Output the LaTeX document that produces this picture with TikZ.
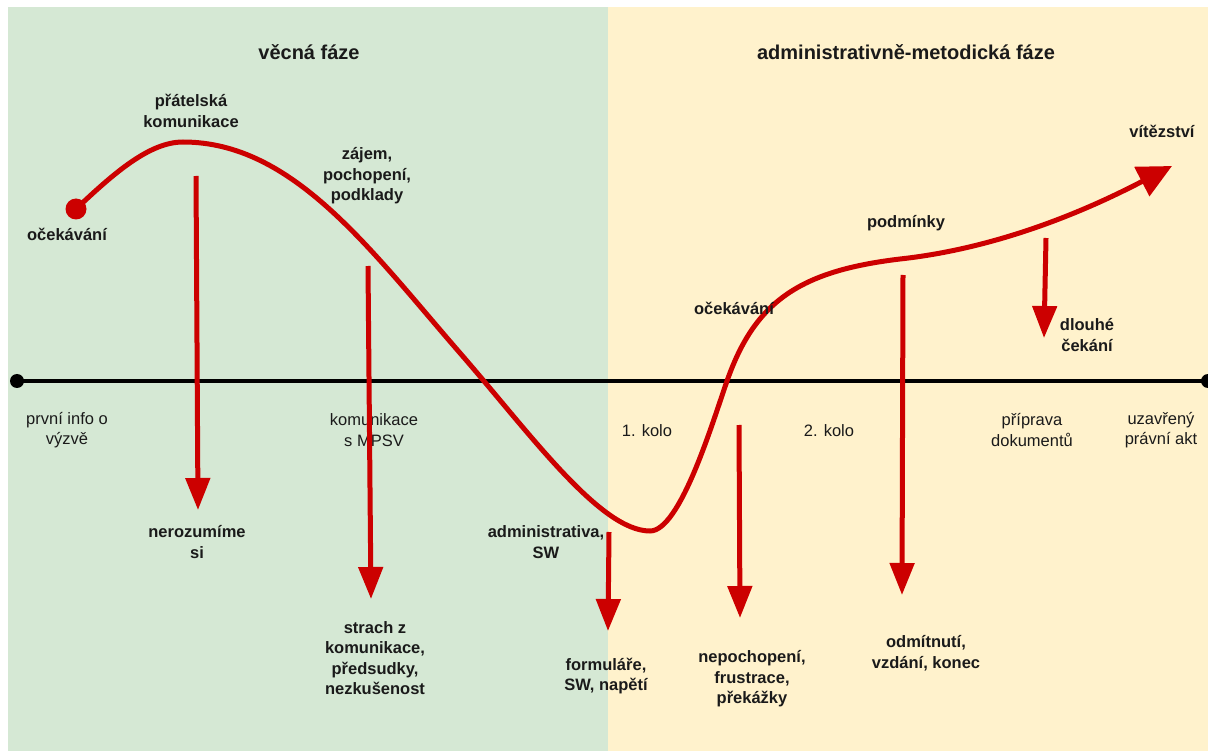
\documentclass[tikz,border=0pt]{standalone}
\usepackage{fontspec}
\setmainfont{Liberation Sans}
\usetikzlibrary{arrows.meta}
\definecolor{gbg}{HTML}{D5E8D4}
\definecolor{ybg}{HTML}{FFF2CC}
\definecolor{cred}{HTML}{CC0000}
\definecolor{txt}{HTML}{1A1A1A}
\begin{document}
\begin{tikzpicture}[x=1pt,y=-1pt,
  lbl/.style={font=\fontsize{16.5}{20.5}\selectfont\bfseries, align=center, text=txt, inner sep=0pt},
  axl/.style={font=\fontsize{16.5}{20.5}\selectfont, align=center, text=txt, inner sep=0pt},
  ttl/.style={font=\fontsize{20}{24}\selectfont\bfseries, text=txt, inner sep=0pt},
  drop/.style={draw=cred, line width=5pt, -{Triangle[width=24pt,length=32pt]}},
  dotnode/.style={circle, inner sep=0pt, minimum size=#1},
]
\useasboundingbox (0,0) rectangle (1208,751);
\clip (0,0) rectangle (1208,751);
\fill[white] (0,0) rectangle (1208,751);
% panels
\fill[gbg] (8,7) rectangle (608,751);
\fill[ybg] (608,7) rectangle (1208,751);
% titles
\node[ttl] (t1) at (309,52) {věcná fáze};
\node[ttl] (t2) at (906,52) {administrativně-metodická fáze};
% axis
\node[dotnode=14pt, fill=black] (a0) at (17,381) {};
\node[dotnode=14pt, fill=black] (a1) at (1208,381) {};
\draw[line width=3.5pt, black] (a0.center) -- (a1.center);
% axis labels
\node[axl] (x1) at (67,430) {první info o\\výzvě};
\node[axl] (x2) at (374,430) {komunikace\\s MPSV};
\node[axl] (x3) at (647,431) {1. kolo};
\node[axl] (x4) at (829,431) {2. kolo};
\node[axl] (x5) at (1032,430) {příprava\\dokumentů};
\node[axl] (x6) at (1161,430) {uzavřený\\právní akt};
% vertical drops
\coordinate (d1s) at (196,176); \coordinate (d1e) at (198,510);
\coordinate (d2s) at (368,266); \coordinate (d2e) at (371,599);
\coordinate (d3s) at (609,532); \coordinate (d3e) at (608,631);
\coordinate (d4s) at (739,425); \coordinate (d4e) at (740,618);
\coordinate (d5s) at (903,275); \coordinate (d5e) at (902,595);
\coordinate (d6s) at (1046,238); \coordinate (d6e) at (1044,338);
\draw[drop] (d1s) -- (d1e);
\draw[drop] (d2s) -- (d2e);
\draw[drop] (d3s) -- (d3e);
\draw[drop] (d4s) -- (d4e);
\draw[drop] (d5s) -- (d5e);
\draw[drop] (d6s) -- (d6e);
% curve
\node[dotnode=21pt, fill=cred] (start) at (76,209) {};
\coordinate (peak) at (183,142);
\coordinate (fall) at (460,353);
\coordinate (low) at (650,531);
\coordinate (rise) at (727,381);
\coordinate (plat) at (900,259);
\coordinate (win) at (1172,166);
\draw[cred, line width=5pt, -{Triangle[width=32pt,length=34pt]}]
  (start.center) .. controls (115,172) and (150,142) .. (peak)
  .. controls (293,142) and (370,249.5) .. (fall)
  .. controls (530,433.5) and (600,531) .. (low)
  .. controls (680,531) and (712,424) .. (rise)
  .. controls (755,301) and (800,271) .. (plat)
  .. controls (1015,246.5) and (1112,197) .. (win);
% curve labels
\node[lbl] (l1) at (67,234) {očekávání};
\node[lbl] (l2) at (191,111) {přátelská\\komunikace};
\node[lbl] (l3) at (367,176) {zájem,\\pochopení,\\podklady};
\node[lbl] (l4) at (734,308) {očekávání};
\node[lbl] (l5) at (906,223) {podmínky};
\node[lbl] (l6) at (1162,131) {vítězství};
\node[lbl] (l7) at (1087,335) {dlouhé\\čekání};
\node[lbl] (l8) at (197,542) {nerozumíme\\si};
\node[lbl] (l9) at (375,658) {strach z\\komunikace,\\předsudky,\\nezkušenost};
\node[lbl] (l10) at (546,542) {administrativa,\\SW};
\node[lbl] (l11) at (606,676) {formuláře,\\SW, napětí};
\node[lbl] (l12) at (752,679) {nepochopení,\\frustrace,\\překážky};
\node[lbl] (l13) at (926,653) {odmítnutí,\\vzdání, konec};
\end{tikzpicture}
\end{document}
